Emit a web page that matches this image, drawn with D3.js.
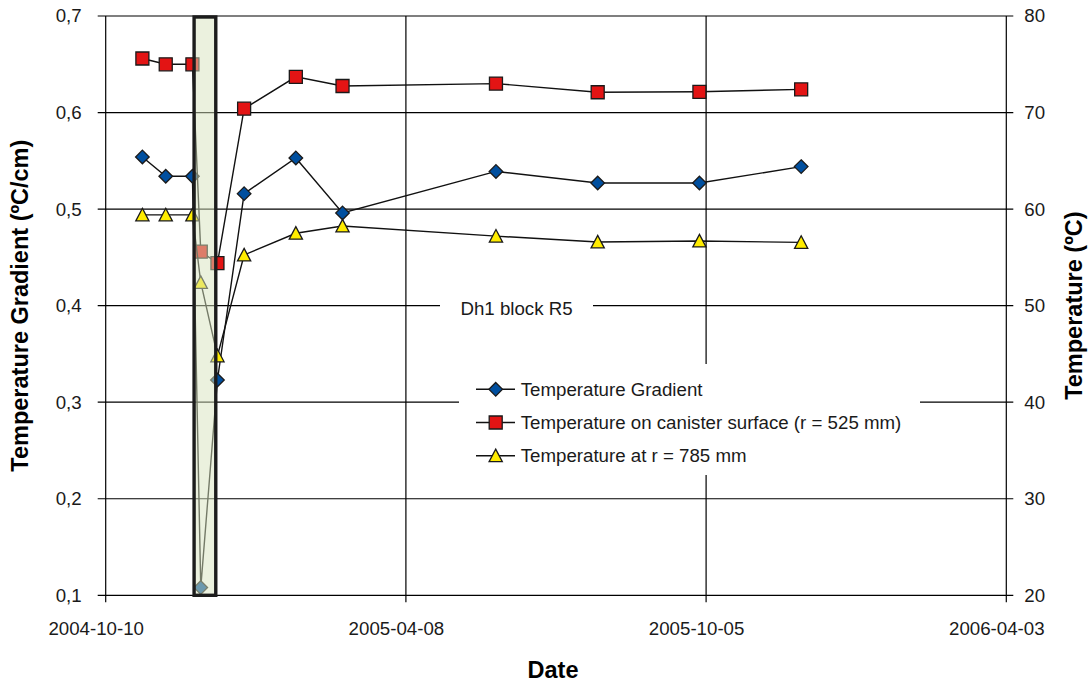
<!DOCTYPE html>
<html>
<head>
<meta charset="utf-8">
<script src="https://cdn.jsdelivr.net/npm/d3@7/dist/d3.min.js"></script>
<style>
  html, body { margin: 0; padding: 0; background: #fff; }
  svg { display: block; font-family: "Liberation Sans", Arial, sans-serif; }
</style>
</head>
<body>
<svg id="grafico"></svg>
<script>
const ancho = 1089;
const alto = 682;

// datos
const fechas = [
  "2004-11-01", "2004-11-15", "2004-12-01", "2004-12-06", "2004-12-16", "2005-01-01",
  "2005-02-01", "2005-03-01", "2005-06-01", "2005-08-01", "2005-10-01", "2005-12-01"
];
const gradiente = [0.554, 0.534, 0.534, 0.108, 0.323, 0.516, 0.553, 0.496, 0.539, 0.527, 0.527, 0.544];
const tempCanister = [75.6, 75.0, 75.0, 55.6, 54.4, 70.4, 73.7, 72.75, 73.0, 72.1, 72.15, 72.4];
const temp785 = [59.4, 59.4, 59.4, 52.4, 44.8, 55.25, 57.5, 58.25, 57.2, 56.6, 56.7, 56.55];

const franja = ["2004-12-02", "2004-12-15"];

const ticksIzq = [0.1, 0.2, 0.3, 0.4, 0.5, 0.6, 0.7];
const ticksDer = [20, 30, 40, 50, 60, 70, 80];
const ticksFecha = ["2004-10-10", "2005-04-08", "2005-10-05", "2006-04-03"];

const nombres = [
  "Temperature Gradient",
  "Temperature on canister surface (r = 525 mm)",
  "Temperature at r = 785 mm"
];
const textoBloque = "Dh1 block R5";

const parse = d3.utcParse("%Y-%m-%d");
const fuente = 18.7;
const fuenteTitulo = 23.5;

const izq = 105.7, der = 1006.3, arriba = 16, abajo = 595.3;

const x = d3.scaleUtc()
  .domain([parse(ticksFecha[0]), parse(ticksFecha[ticksFecha.length - 1])])
  .range([izq, der]);
const yIzq = d3.scaleLinear().domain([0.1, 0.7]).range([abajo, arriba]);
const yDer = d3.scaleLinear().domain([20, 80]).range([abajo, arriba]);

const coma = d3.formatLocale({ decimal: ",", thousands: ".", grouping: [3], currency: ["", ""] });

const svg = d3.select("#grafico").attr("width", ancho).attr("height", alto);

// rejilla (incluye ejes y marcas)
const gRejilla = svg.append("g").attr("stroke", "#000").attr("stroke-width", 1.2);
gRejilla.selectAll("line.h").data(ticksIzq).join("line")
  .attr("class", "h")
  .attr("x1", izq - 8).attr("x2", der + 7)
  .attr("y1", d => yIzq(d)).attr("y2", d => yIzq(d));
gRejilla.selectAll("line.v").data(ticksFecha).join("line")
  .attr("class", "v")
  .attr("x1", d => x(parse(d))).attr("x2", d => x(parse(d)))
  .attr("y1", arriba).attr("y2", abajo + 7);

// etiquetas de ejes
const ejeIzq = svg.append("g").attr("transform", `translate(${izq},0)`)
  .call(d3.axisLeft(yIzq).tickValues(ticksIzq).tickSize(8).tickPadding(16).tickFormat(coma.format(".1f")));
const ejeDer = svg.append("g").attr("transform", `translate(${der},0)`)
  .call(d3.axisRight(yDer).tickValues(ticksDer).tickSize(7).tickPadding(11).tickFormat(d3.format("d")));
const ejeX = svg.append("g").attr("transform", `translate(0,${abajo})`)
  .call(d3.axisBottom(x).tickValues(ticksFecha.map(parse)).tickSize(7).tickPadding(19).tickFormat(d3.utcFormat("%Y-%m-%d")));

[ejeIzq, ejeDer, ejeX].forEach(g => {
  g.select(".domain").remove();
  g.selectAll(".tick line").remove();
  g.selectAll("text").attr("font-size", fuente).attr("fill", "#1a1a1a").attr("font-family", null);
});
ejeX.selectAll("text").attr("dx", -10);

// titulos
svg.append("text")
  .attr("transform", `translate(27.5,${(arriba + abajo) / 2}) rotate(-90)`)
  .attr("text-anchor", "middle")
  .attr("font-size", fuenteTitulo).attr("font-weight", 700)
  .text("Temperature Gradient (ºC/cm)");
svg.append("text")
  .attr("transform", `translate(1081.5,${(arriba + abajo) / 2}) rotate(-90)`)
  .attr("text-anchor", "middle")
  .attr("font-size", fuenteTitulo).attr("font-weight", 700)
  .text("Temperature (ºC)");
svg.append("text")
  .attr("x", (izq + der) / 2 - 3).attr("y", 678)
  .attr("text-anchor", "middle")
  .attr("font-size", fuenteTitulo).attr("font-weight", 700)
  .text("Date");

// etiqueta del bloque con fondo blanco
svg.append("rect").attr("x", 440).attr("y", 293).attr("width", 153).attr("height", 26).attr("fill", "#fff");
svg.append("text")
  .attr("x", 516.5).attr("y", 315)
  .attr("text-anchor", "middle")
  .attr("font-size", fuente).attr("fill", "#1a1a1a")
  .text(textoBloque);

// formas de marcador
function diamante(s) {
  const p = d3.path();
  p.moveTo(0, -s); p.lineTo(s, 0); p.lineTo(0, s); p.lineTo(-s, 0); p.closePath();
  return p.toString();
}
function cuadrado(s) {
  const p = d3.path();
  p.rect(-s, -s, 2 * s, 2 * s);
  return p.toString();
}
function triangulo(s) {
  const p = d3.path();
  p.moveTo(0, -s); p.lineTo(s, s * 0.9); p.lineTo(-s, s * 0.9); p.closePath();
  return p.toString();
}

const series = [
  { nombre: nombres[0], valores: gradiente, y: yIzq, color: "#004f9f", forma: diamante(6.8) },
  { nombre: nombres[1], valores: tempCanister, y: yDer, color: "#e31414", forma: cuadrado(6.5) },
  { nombre: nombres[2], valores: temp785, y: yDer, color: "#ffec00", forma: triangulo(6.6) }
];

const gSeries = svg.append("g");
series.forEach(s => {
  const puntos = fechas.map((f, i) => [x(parse(f)), s.y(s.valores[i])]);
  gSeries.append("path")
    .datum(puntos)
    .attr("fill", "none")
    .attr("stroke", "#111")
    .attr("stroke-width", 1.4)
    .attr("d", d3.line());
  gSeries.selectAll(null).data(puntos).join("path")
    .attr("transform", d => `translate(${d[0]},${d[1]})`)
    .attr("d", s.forma)
    .attr("fill", s.color)
    .attr("stroke", "#1a1a1a")
    .attr("stroke-width", 1.3);
});

// franja resaltada encima de los datos
const fx0 = x(parse(franja[0])), fx1 = x(parse(franja[1]));
svg.append("rect")
  .attr("x", fx0).attr("y", arriba + 1)
  .attr("width", fx1 - fx0).attr("height", abajo - arriba - 1)
  .attr("fill", "rgb(216,228,190)").attr("fill-opacity", 0.5)
  .attr("stroke", "#1c1c1c").attr("stroke-width", 3.4);

// leyenda
const gLeyenda = svg.append("g");
gLeyenda.append("rect").attr("x", 459).attr("y", 364).attr("width", 461).attr("height", 111).attr("fill", "#fff");
series.forEach((s, i) => {
  const yy = 389.3 + i * 33.2;
  gLeyenda.append("line")
    .attr("x1", 476).attr("x2", 515).attr("y1", yy).attr("y2", yy)
    .attr("stroke", "#111").attr("stroke-width", 1.4);
  gLeyenda.append("path")
    .attr("transform", `translate(495.7,${yy})`)
    .attr("d", s.forma)
    .attr("fill", s.color)
    .attr("stroke", "#1a1a1a")
    .attr("stroke-width", 1.3);
  gLeyenda.append("text")
    .attr("x", 520.7).attr("y", yy).attr("dy", "0.35em")
    .attr("font-size", fuente).attr("fill", "#1a1a1a")
    .text(s.nombre);
});
</script>
</body>
</html>
